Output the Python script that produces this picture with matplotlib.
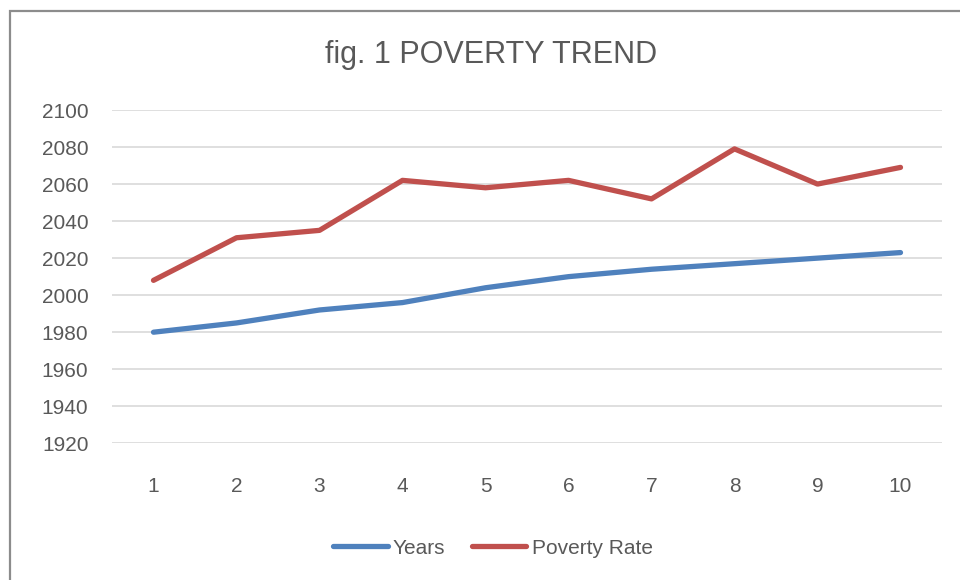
import matplotlib
matplotlib.use("Agg")
import matplotlib.pyplot as plt
from matplotlib.patches import Rectangle

categories = [1, 2, 3, 4, 5, 6, 7, 8, 9, 10]
years = [1980, 1985, 1992, 1996, 2004, 2010, 2014, 2017, 2020, 2023]
poverty_rate = [2008, 2031, 2035, 2062, 2058, 2062, 2052, 2079, 2060, 2069]
y_ticks = [1920, 1940, 1960, 1980, 2000, 2020, 2040, 2060, 2080, 2100]

plt.rcParams['font.family'] = ['Liberation Sans', 'DejaVu Sans']
TXT = '#595959'

fig = plt.figure(figsize=(9.6, 5.8), dpi=100)
ax = fig.add_axes([112/960, 1 - 443.3/580, (942 - 112)/960, (443.3 - 110)/580])

ax.plot(categories, years, color='#4F81BD', lw=3.8, solid_capstyle='round',
        solid_joinstyle='round', label='Years', zorder=3)
ax.plot(categories, poverty_rate, color='#C0504D', lw=3.8, solid_capstyle='round',
        solid_joinstyle='round', label='Poverty Rate', zorder=3)

ax.set_xlim(0.5, 10.5)
ax.set_ylim(1920, 2100)
ax.set_yticks(y_ticks)
ax.set_xticks(categories)
ax.set_xticklabels([str(c) for c in categories])
ax.grid(axis='y', color='#D9D9D9', lw=1.2)
ax.set_axisbelow(True)
for s in ax.spines.values():
    s.set_visible(False)
ax.tick_params(axis='both', length=0, labelsize=15, labelcolor=TXT)
ax.tick_params(axis='y', pad=17)
ax.tick_params(axis='x', pad=24)

fig.text(491/960, 1 - 55/580, 'fig. 1 POVERTY TREND', ha='center', va='center',
         fontsize=22, color=TXT)

leg = fig.legend(loc='center', bbox_to_anchor=(493/960, 1 - 548/580), ncol=2,
                 frameon=False, fontsize=15, handlelength=2.6, handletextpad=0.25,
                 columnspacing=1.3, labelcolor=TXT)

fig.patches.append(Rectangle((10/960, -0.2), 1.5, 0.2 + (1 - 11/580), fill=False,
                             edgecolor='#8C8C8C', lw=1.6, transform=fig.transFigure))

fig.savefig('out.png', dpi=100)
